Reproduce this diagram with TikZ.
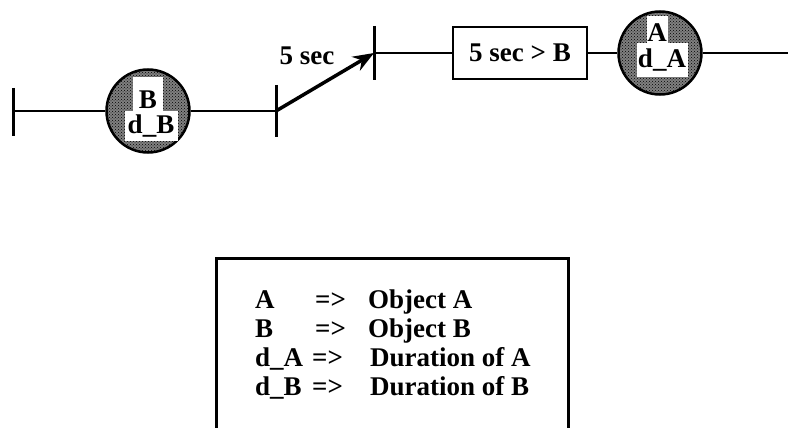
\documentclass[tikz,border=0pt]{standalone}
\usepackage{fontspec}
\setmainfont{Liberation Serif}
\usetikzlibrary{arrows.meta,patterns}
\begin{document}
\begin{tikzpicture}[x=1pt,y=-1pt,
  wire/.style={line width=2.2pt},
  tbar/.style={line width=3pt},
  obj/.style={circle,draw,line width=2.5pt,minimum size=83pt,inner sep=0pt,
     fill=black!50, postaction={pattern=crosshatch dots, pattern color=black}},
  txt/.style={font=\fontsize{27}{27}\selectfont\bfseries},
  clab/.style={txt,inner sep=0pt,anchor=base},
  legtxt/.style={txt,anchor=base west,inner sep=0pt}]
\useasboundingbox (0,0) rectangle (788,428);
% left part
\coordinate (b0t) at (13,88);
\coordinate (b0b) at (13,136);
\coordinate (b0) at (13,111);
\draw[tbar] (b0t) -- (b0b);
\node[obj] (cB) at (148,111) {};
\fill[white] (133,77) rectangle (163,112);
\fill[white] (125,111) rectangle (178,141);
\node[clab] (tB) at (148,109) {B};
\node[clab] (tdB) at (151,133) {d\_B};
\draw[wire] (b0) -- (cB.west);
\coordinate (t1) at (276,111);
\coordinate (t1t) at (276,85);
\coordinate (t1b) at (276,137);
\draw[tbar] (t1t) -- (t1b);
\draw[wire] (cB.east) -- (t1);
% arrow
\coordinate (t2) at (374,53);
\coordinate (t2t) at (374,26);
\coordinate (t2b) at (374,80);
\draw[tbar] (t2t) -- (t2b);
\draw[line width=3.5pt,-{Stealth[length=21pt,width=16pt]}] (t1) -- (t2);
\node[txt,anchor=base] (lab5) at (307,65) {5 sec};
% box
\node[draw,line width=2.5pt,minimum width=134pt,minimum height=52pt,txt,inner sep=0pt] (bx) at (520,53) {5 sec > B};
\draw[wire] (t2) -- (bx.west);
% circle A
\node[obj] (cA) at (660,53) {};
\fill[white] (647,16) rectangle (668,44);
\fill[white] (637,43) rectangle (688,77);
\node[clab] (tA) at (657,42) {A};
\node[clab] (tdA) at (662,68) {d\_A};
\draw[wire] (bx.east) -- (cA.west);
\coordinate (endR) at (788,53);
\draw[wire] (cA.east) -- (endR);
% legend
\coordinate (lg1) at (216,430);
\coordinate (lg2) at (216,258);
\coordinate (lg3) at (568,258);
\coordinate (lg4) at (568,430);
\draw[line width=3pt] (lg1) -- (lg2) -- (lg3) -- (lg4);
\node[legtxt] (k1) at (255,308) {A};
\node[legtxt] (a1) at (315,308) {=>};
\node[legtxt] (v1) at (368,308) {Object A};
\node[legtxt] (k2) at (255,337) {B};
\node[legtxt] (a2) at (315,337) {=>};
\node[legtxt] (v2) at (368,337) {Object B};
\node[legtxt] (k3) at (255,366) {d\_A};
\node[legtxt] (a3) at (312,366) {=>};
\node[legtxt] (v3) at (370,366) {Duration of A};
\node[legtxt] (k4) at (255,395) {d\_B};
\node[legtxt] (a4) at (312,395) {=>};
\node[legtxt] (v4) at (370,395) {Duration of B};
\end{tikzpicture}
\end{document}
